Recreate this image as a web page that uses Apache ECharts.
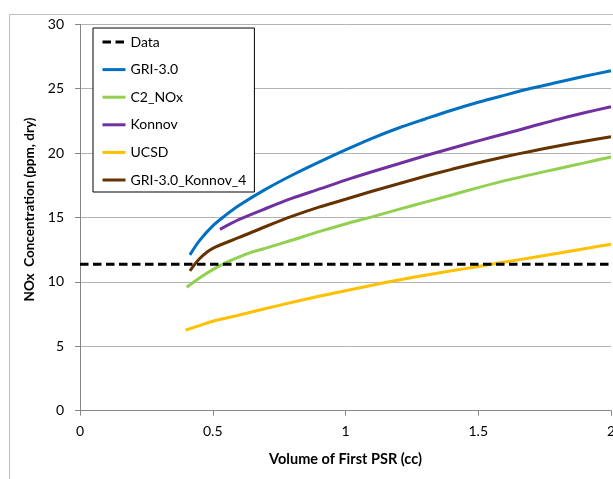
<!DOCTYPE html>
<html>
<head>
<meta charset="utf-8">
<script src="https://cdn.jsdelivr.net/npm/echarts@6/dist/echarts.min.js"></script>
<style>
html,body{margin:0;padding:0;background:#fff;}
#c{width:613px;height:479px;}
</style>
</head>
<body>
<div id="c"></div>
<script>
// ---- data ----
const xTicks = [0, 0.5, 1, 1.5, 2];
const yTicks = [0, 5, 10, 15, 20, 25, 30];

const dataX = [0, 2];
const dataY = [11.37, 11.37];

const griX = [0.414, 0.45, 0.5, 0.55, 0.6, 0.7, 0.8, 0.9, 1.0, 1.1, 1.2, 1.3, 1.4, 1.5, 1.6, 1.7, 1.8, 1.9, 2.0];
const griY = [12.1, 13.2, 14.35, 15.2, 15.95, 17.2, 18.3, 19.3, 20.25, 21.15, 21.95, 22.65, 23.33, 23.95, 24.5, 25.03, 25.5, 25.96, 26.4];

const c2X = [0.402, 0.45, 0.5, 0.55, 0.6, 0.65, 0.7, 0.8, 0.9, 1.0, 1.1, 1.2, 1.3, 1.4, 1.5, 1.6, 1.7, 1.8, 1.9, 2.0];
const c2Y = [9.58, 10.3, 10.95, 11.5, 11.95, 12.33, 12.62, 13.25, 13.9, 14.5, 15.05, 15.63, 16.19, 16.75, 17.32, 17.86, 18.33, 18.79, 19.24, 19.7];

const konX = [0.527, 0.6, 0.7, 0.8, 0.9, 1.0, 1.1, 1.2, 1.3, 1.4, 1.5, 1.6, 1.7, 1.8, 1.9, 2.0];
const konY = [14.08, 14.85, 15.7, 16.5, 17.2, 17.9, 18.55, 19.17, 19.79, 20.38, 20.95, 21.5, 22.06, 22.62, 23.13, 23.6];

const ucsdX = [0.398, 0.45, 0.5, 0.6, 0.7, 0.8, 0.9, 1.0, 1.1, 1.2, 1.3, 1.4, 1.5, 1.6, 1.7, 1.8, 1.9, 2.0];
const ucsdY = [6.27, 6.6, 6.95, 7.43, 7.93, 8.42, 8.88, 9.32, 9.74, 10.15, 10.52, 10.86, 11.2, 11.54, 11.88, 12.22, 12.57, 12.92];

const gkX = [0.414, 0.45, 0.5, 0.6, 0.7, 0.8, 0.9, 1.0, 1.1, 1.2, 1.3, 1.4, 1.5, 1.6, 1.7, 1.8, 1.9, 2.0];
const gkY = [10.85, 11.8, 12.6, 13.45, 14.3, 15.1, 15.8, 16.42, 17.04, 17.62, 18.2, 18.74, 19.25, 19.72, 20.15, 20.55, 20.92, 21.27];

const seriesNames = ['Data', 'GRI-3.0', 'C2_NOx', 'Konnov', 'UCSD', 'GRI-3.0_Konnov_4'];
const seriesColors = ['#000000', '#0070C0', '#92D050', '#7030A0', '#FFC000', '#663300'];

// ---- build chart ----
const zip = (xs, ys) => xs.map((x, i) => [x, ys[i]]);
const FONT = 'Lato';

function lineSeries(idx, xs, ys, dashed) {
  return {
    name: seriesNames[idx],
    type: 'line',
    data: zip(xs, ys),
    symbol: 'none',
    smooth: dashed ? false : 0.3,
    lineStyle: {
      color: seriesColors[idx],
      width: 3,
      type: dashed ? [8.5, 4.5] : 'solid',
      cap: 'butt'
    },
    itemStyle: { color: seriesColors[idx] },
    emphasis: { disabled: true },
    z: dashed ? 3 : 2
  };
}

const chart = echarts.init(document.getElementById('c'), null, { renderer: 'canvas' });
chart.setOption({
  animation: false,
  backgroundColor: '#fff',
  textStyle: { fontFamily: FONT },
  grid: { left: 80, right: 2, top: 24.3, bottom: 68.3, containLabel: false, outerBoundsMode: 'none' },
  graphic: [
    { type: 'line', shape: { x1: 9.5, y1: 14.5, x2: 613, y2: 14.5 }, style: { stroke: '#bfbfbf', lineWidth: 1 }, silent: true },
    { type: 'line', shape: { x1: 9.5, y1: 14.5, x2: 9.5, y2: 479 }, style: { stroke: '#bfbfbf', lineWidth: 1 }, silent: true }
  ],
  legend: {
    show: true,
    orient: 'vertical',
    left: 93,
    top: 28,
    padding: [7, 8, 5, 8],
    itemGap: 13.6,
    itemWidth: 23,
    itemHeight: 14,
    backgroundColor: '#fff',
    borderColor: '#000',
    borderWidth: 1,
    itemStyle: { opacity: 0 },
    lineStyle: { width: 3 },
    textStyle: { fontFamily: FONT, fontSize: 14, color: '#000' },
    data: seriesNames.slice()
  },
  xAxis: {
    type: 'value',
    min: xTicks[0],
    max: xTicks[xTicks.length - 1],
    interval: xTicks[1] - xTicks[0],
    name: 'Volume of First PSR (cc)',
    nameLocation: 'middle',
    nameGap: 41,
    nameTextStyle: { fontFamily: FONT, fontSize: 14.5, fontWeight: 'bold', color: '#000' },
    axisLine: { show: true, lineStyle: { color: '#868686', width: 1 } },
    axisTick: { show: true, length: 5, lineStyle: { color: '#868686' } },
    axisLabel: { margin: 14, fontFamily: FONT, fontSize: 14, color: '#000' },
    splitLine: { show: false }
  },
  yAxis: {
    type: 'value',
    min: yTicks[0],
    max: yTicks[yTicks.length - 1],
    interval: yTicks[1] - yTicks[0],
    name: 'NOx  Concentration (ppm, dry)',
    nameLocation: 'middle',
    nameGap: 34,
    nameTextStyle: { fontFamily: FONT, fontSize: 13.5, fontWeight: 'bold', color: '#000', padding: [0, 0, 0, 16] },
    axisLine: { show: true, lineStyle: { color: '#868686', width: 1 } },
    axisTick: { show: true, length: 5, lineStyle: { color: '#868686' } },
    axisLabel: { margin: 16, fontFamily: FONT, fontSize: 14, color: '#000' },
    splitLine: { show: true, lineStyle: { color: '#b3b3b3', width: 1 } }
  },
  series: [
    lineSeries(0, dataX, dataY, true),
    lineSeries(1, griX, griY, false),
    lineSeries(2, c2X, c2Y, false),
    lineSeries(3, konX, konY, false),
    lineSeries(4, ucsdX, ucsdY, false),
    lineSeries(5, gkX, gkY, false)
  ]
});
</script>
</body>
</html>
